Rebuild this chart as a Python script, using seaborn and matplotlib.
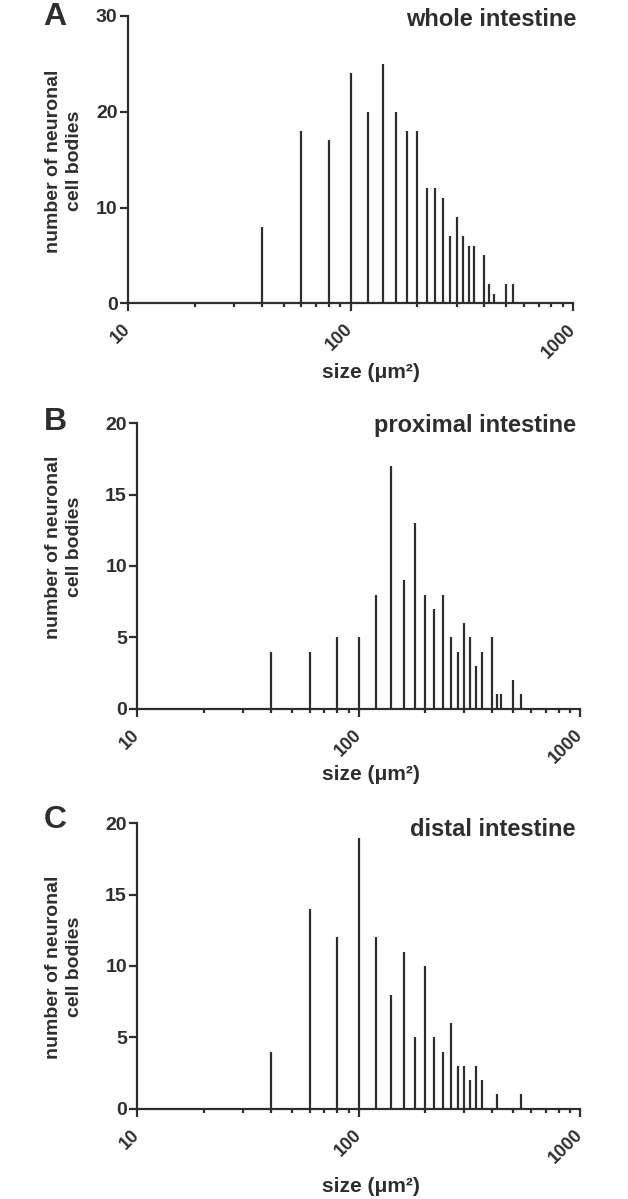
import matplotlib
matplotlib.use('Agg')
import matplotlib.pyplot as plt
import seaborn as sns
from matplotlib.ticker import LogLocator, NullFormatter, FixedLocator

# bin centres (um^2) and counts
sizes_whole = [40, 60, 80, 100, 120, 140, 160, 180, 200, 220, 240, 260, 280, 300, 320, 340, 360, 400, 420, 440, 500, 540]
counts_whole = [8, 18, 17, 24, 20, 25, 20, 18, 18, 12, 12, 11, 7, 9, 7, 6, 6, 5, 2, 1, 2, 2]

sizes_prox = [40, 60, 80, 100, 120, 140, 160, 180, 200, 220, 240, 260, 280, 300, 320, 340, 360, 400, 420, 440, 500, 540]
counts_prox = [4, 4, 5, 5, 8, 17, 9, 13, 8, 7, 8, 5, 4, 6, 5, 3, 4, 5, 1, 1, 2, 1]

sizes_dist = [40, 60, 80, 100, 120, 140, 160, 180, 200, 220, 240, 260, 280, 300, 320, 340, 360, 420, 540]
counts_dist = [4, 14, 12, 19, 12, 8, 11, 5, 10, 5, 4, 6, 3, 3, 2, 3, 2, 1, 1]

titles = ['whole intestine', 'proximal intestine', 'distal intestine']
letters = ['A', 'B', 'C']
xtick_vals = [10, 100, 1000]
xtick_labels = ['10', '100', '1000']

sns.set_theme(style='ticks')
plt.rcParams['font.family'] = ['Liberation Sans', 'DejaVu Sans']
plt.rcParams['font.weight'] = 'bold'

ink = '#2e2e2e'
W, H = 628, 1199

fig = plt.figure(figsize=(W / 100, H / 100), dpi=100)


def rect(l, t, r, b):
    return [l / W, 1 - b / H, (r - l) / W, (b - t) / H]


panels = [
    # sizes, counts, ymax, yticks, axes box (px), letter y, title y, xlabel y, ylabel y
    (sizes_whole, counts_whole, 30, [0, 10, 20, 30], (128, 16, 573, 303.3), 17, 20, 373, 161),
    (sizes_prox, counts_prox, 20, [0, 5, 10, 15, 20], (137.3, 423.3, 580, 708.7), 422, 426, 775, 547),
    (sizes_dist, counts_dist, 20, [0, 5, 10, 15, 20], (137.3, 823.3, 580, 1108.7), 820, 829, 1187, 967),
]

for i, (sz, ct, ymax, yt, box, ly, ty, xly, yly) in enumerate(panels):
    ax = fig.add_axes(rect(*box))
    ax.vlines(sz, 0, ct, color=ink, lw=1.6)
    ax.set_xscale('log')
    ax.set_xlim(10, 1000)
    ax.set_ylim(0, ymax)
    ax.set_yticks(yt)
    ax.set_yticklabels([str(v) for v in yt], fontsize=14, fontweight='bold', color=ink)
    ax.xaxis.set_major_locator(FixedLocator(xtick_vals))
    ax.set_xticklabels(xtick_labels, fontsize=13, fontweight='bold', color=ink)
    ax.xaxis.set_minor_locator(LogLocator(base=10, subs=range(2, 10)))
    ax.xaxis.set_minor_formatter(NullFormatter())
    sns.despine(ax=ax)
    for s in ['left', 'bottom']:
        ax.spines[s].set_linewidth(1.6)
        ax.spines[s].set_color(ink)
    ax.tick_params(axis='y', length=6, width=1.6, color=ink, pad=1.5)
    ax.tick_params(axis='x', which='major', length=6, width=1.6, color=ink, pad=11)
    ax.tick_params(axis='x', which='minor', length=3, width=1.6, color=ink)
    for lab in ax.get_xticklabels():
        lab.set_rotation(45)
        lab.set_ha('right')
        lab.set_va('center')
        lab.set_rotation_mode('anchor')
    ax.set_xlabel('')
    ax.set_ylabel('')
    ax.grid(False)

    fig.text(55 / W, 1 - ly / H, letters[i], fontsize=23, fontweight='bold', color=ink,
             ha='center', va='center')
    fig.text(576 / W, 1 - ty / H, titles[i], fontsize=17, fontweight='bold', color=ink,
             ha='right', va='center')
    fig.text(371 / W, 1 - xly / H, 'size (μm²)', fontsize=15, fontweight='bold', color=ink,
             ha='center', va='center')
    fig.text(64 / W, 1 - yly / H, 'number of neuronal\ncell bodies', fontsize=14,
             fontweight='bold', color=ink, rotation=90, ha='center', va='center',
             multialignment='center', linespacing=1.3)

fig.savefig('out.png', dpi=100)
